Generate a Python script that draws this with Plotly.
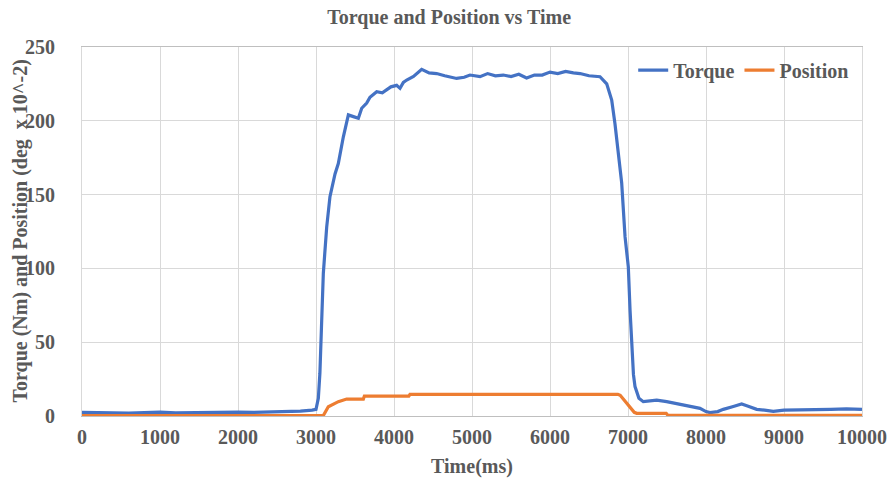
import plotly.graph_objects as go

# Torque samples (time in ms, torque in Nm)
torque_time = [0, 200, 400, 600, 800, 1000, 1200, 1400, 1600, 1800,
               2000, 2200, 2400, 2600, 2800, 2950, 3000, 3030, 3050, 3070,
               3094, 3137, 3179, 3244, 3286, 3350, 3415, 3470, 3543, 3586,
               3650, 3692, 3740, 3778, 3850, 3906, 3960, 4034, 4077, 4120,
               4163, 4250, 4355, 4450, 4547, 4650, 4803, 4900, 4974, 5103,
               5200, 5300, 5400, 5500, 5600, 5700, 5800, 5900, 6000, 6100,
               6200, 6300, 6385, 6500, 6641, 6727, 6791, 6833, 6876, 6919,
               6962, 7004, 7026, 7047, 7070, 7090, 7140, 7196, 7280, 7368,
               7496, 7600, 7700, 7800, 7923, 8000, 8051, 8150, 8222, 8350,
               8457, 8550, 8650, 8750, 8863, 9000, 9205, 9400, 9600, 9800,
               10000]
torque_val = [2.5, 2.2, 2.4, 2.0, 2.3, 2.6, 2.2, 2.4, 2.1, 2.5,
              2.6, 2.4, 2.7, 2.8, 3.3, 4.0, 4.5, 12, 29, 60,
              96.7, 128, 148.6, 164, 171, 189, 204, 203, 201.7, 208.5,
              212, 216, 218, 219.7, 219, 221, 223, 224, 222, 226,
              227.6, 230, 234.9, 232.5, 232, 230.5, 228.7, 229.5, 231, 229.9,
              232, 230.5, 231, 230, 231.5, 229, 231, 231, 233, 232,
              233.5, 232.5, 232, 230.5, 229.9, 225, 214, 198, 176, 158,
              121.5, 101, 72, 44.7, 28, 19.9, 12, 9.7, 10.5, 10.8,
              9.7, 8.6, 7.5, 6, 5.2, 3, 2.3, 3, 4.5, 6.5,
              8.1, 6.5, 4.5, 4, 3.2, 4, 4, 4.3, 4.5, 4.8,
              4.5]

# Position samples (time in ms, position in deg x 10^-2)
position_time = [0, 3094, 3158, 3200, 3286, 3393, 3607, 3620, 4190, 4205,
                 6870, 6900, 7000, 7080, 7111, 7490, 7510, 10000]
position_val = [0.3, 0.3, 6.3, 7.5, 9.7, 11.5, 11.5, 13.5, 13.5, 14.7,
                14.7, 14.0, 8.0, 2.5, 1.8, 1.8, 0.5, 0.5]

x_ticks = list(range(0, 10001, 1000))
y_ticks = list(range(0, 251, 50))

FONT = "Liberation Serif"
GREY = "#595959"
GRID = "#d9d9d9"

fig = go.Figure()
fig.add_trace(go.Scatter(x=torque_time, y=torque_val, mode="lines", name="Torque",
                         line=dict(color="#4472C4", width=3.2)))
fig.add_trace(go.Scatter(x=position_time, y=position_val, mode="lines", name="Position",
                         line=dict(color="#ED7D31", width=3.2)))

fig.update_layout(
    width=893, height=478,
    margin=dict(l=82, r=31, t=47, b=62, autoexpand=False),
    paper_bgcolor="white", plot_bgcolor="white",
    title=dict(text="Torque and Position vs Time", x=0.503, xanchor="center",
               y=0.965, yanchor="middle",
               font=dict(family=FONT, size=20, color=GREY, weight="bold")),
    font=dict(family=FONT, color=GREY),
    legend=dict(orientation="h", x=0.99, xanchor="right", y=0.99, yanchor="top",
                bgcolor="rgba(0,0,0,0)", itemwidth=30, tracegroupgap=0,
                font=dict(family=FONT, size=20, color=GREY, weight="bold")),
    showlegend=True,
    annotations=[dict(text="Torque (Nm) and Position (deg  x 10^-2)",
                      xref="paper", yref="paper", x=0, y=0.5,
                      xanchor="center", yanchor="middle", xshift=-62,
                      textangle=-90, showarrow=False,
                      font=dict(family=FONT, size=20, color=GREY, weight="bold"))],
)
fig.update_xaxes(range=[0, 10000], tickvals=x_ticks, ticktext=[str(v) for v in x_ticks],
                 showgrid=True, gridcolor=GRID, gridwidth=1,
                 showline=True, linecolor="#bfbfbf", linewidth=1, mirror=True,
                 zeroline=False, ticks="", automargin=False, ticklabelstandoff=3,
                 tickfont=dict(family=FONT, size=20, color=GREY, weight="bold"),
                 title=dict(text="Time(ms)", standoff=14,
                            font=dict(family=FONT, size=20, color=GREY, weight="bold")))
fig.update_yaxes(range=[0, 250], tickvals=y_ticks, ticktext=[str(v) for v in y_ticks],
                 showgrid=True, gridcolor=GRID, gridwidth=1,
                 showline=True, linecolor=GRID, linewidth=1, mirror=True,
                 zeroline=False, ticks="", automargin=False, ticklabelstandoff=22,
                 tickfont=dict(family=FONT, size=20, color=GREY, weight="bold"))

fig.write_html("out.html", config={"displayModeBar": False},
               post_script="document.body.style.margin='0';")
